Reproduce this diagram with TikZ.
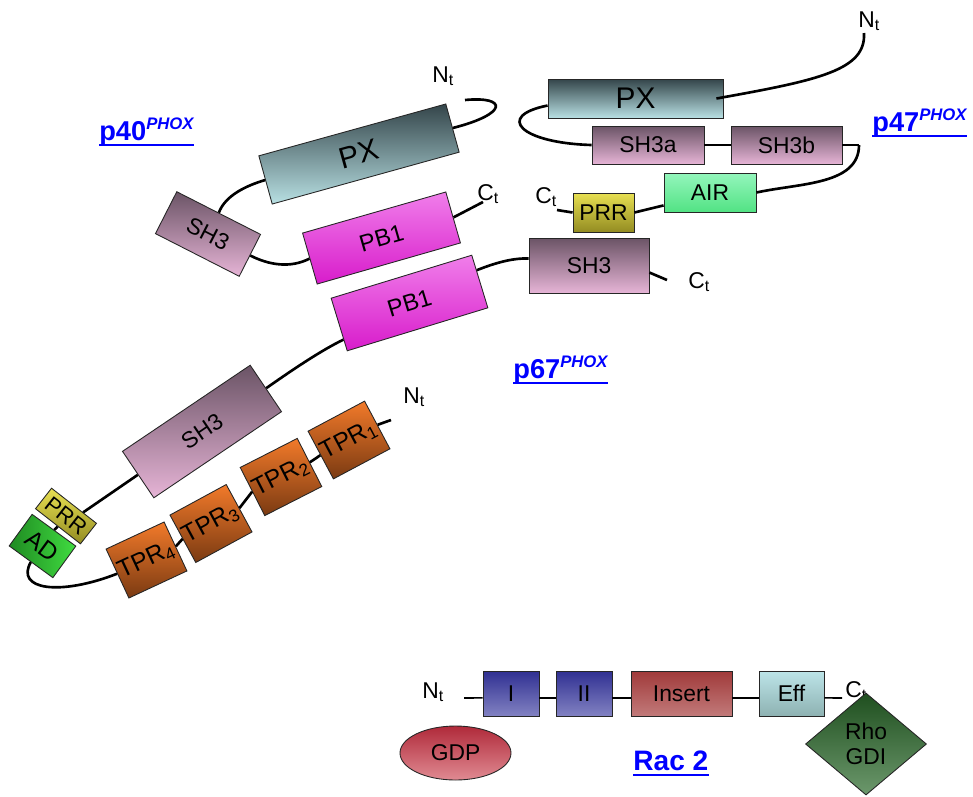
\documentclass[tikz,border=0pt]{standalone}
\usepackage{fontspec}
\setmainfont{Liberation Sans}
\usetikzlibrary{shapes.geometric,calc}

\definecolor{pxdark}{HTML}{34454A}
\definecolor{pxlight}{HTML}{B8E0E3}
\definecolor{shdark}{HTML}{6B5466}
\definecolor{shlight}{HTML}{E6B4D6}
\definecolor{pbtop}{HTML}{F07EEA}
\definecolor{pbbot}{HTML}{D81CCB}
\definecolor{tprtop}{HTML}{F27A2A}
\definecolor{tprbot}{HTML}{7A3A12}
\definecolor{prrtop}{HTML}{E8E052}
\definecolor{prrbot}{HTML}{938C22}
\definecolor{addark}{HTML}{1F8A22}
\definecolor{adlight}{HTML}{40DC40}
\definecolor{airtop}{HTML}{94F6BC}
\definecolor{airbot}{HTML}{52E284}
\definecolor{gtop}{HTML}{303092}
\definecolor{gbot}{HTML}{8282C2}
\definecolor{instop}{HTML}{A03A3A}
\definecolor{insbot}{HTML}{C27A7A}
\definecolor{efftop}{HTML}{BCE4E8}
\definecolor{effbot}{HTML}{8EB2B2}
\definecolor{gdptop}{HTML}{B02A3A}
\definecolor{gdpbot}{HTML}{E08A92}
\definecolor{rhotop}{HTML}{1F4F1F}
\definecolor{rhobot}{HTML}{6C986C}

\newcommand{\phox}{\raisebox{0.75ex}{\fontsize{9.5}{10}\selectfont\itshape PHOX}}

\begin{document}
\begin{tikzpicture}[
    x=0.2mm, y=-0.2mm,
    dom/.style={rectangle, draw=black!85, line width=0.5pt, inner sep=0pt, font=\fontsize{13}{15}\selectfont},
    pxbox/.style={dom, top color=pxdark, bottom color=pxlight, font=\fontsize{17}{20}\selectfont},
    sh3box/.style={dom, top color=shdark, bottom color=shlight},
    pbbox/.style={dom, top color=pbtop, bottom color=pbbot, font=\fontsize{13.5}{15}\selectfont},
    tprbox/.style={dom, top color=tprtop, bottom color=tprbot, minimum width=12.8mm, minimum height=10.8mm, font=\fontsize{14}{16}\selectfont},
    prrbox/.style={dom, top color=prrtop, bottom color=prrbot},
    gbox/.style={dom, top color=gtop, bottom color=gbot, minimum width=11.2mm, minimum height=9mm},
    link/.style={line width=1.5pt},
    thinlink/.style={line width=0.9pt},
    uline/.style={blue, line width=1.4pt},
    term/.style={anchor=base west, inner sep=0pt, font=\fontsize{13}{15}\selectfont},
    prot/.style={anchor=base west, inner sep=0pt, text=blue, font=\fontsize{15.5}{17}\selectfont\bfseries},
]
\useasboundingbox (0,0) rectangle (973,796);

% p40
\node[pxbox, minimum width=38.8mm, minimum height=10mm, rotate=15.5] (px40) at (359,154) {PX};
\node[sh3box, minimum width=18.8mm, minimum height=9.4mm, rotate=-27] (sh340) at (208,234) {SH3};
\node[pbbox, minimum width=29.8mm, minimum height=10.6mm, rotate=16] (pb140) at (381.5,238) {PB1};
\coordinate (n40) at (465,100);
\coordinate (c40) at (483,202);
\node[term] (nt40) at (432,82) {N\textsubscript{t}};
\node[term] (ct40) at (477,200) {C\textsubscript{t}};
\node[prot] (lab40) at (99,140) {p40\phox};
\draw[uline] ($(lab40.base west)+(0,5)$) -- ($(lab40.base east)+(0,5)$);

\draw[link] (n40) .. controls (508,96) and (508,114) .. (px40.east);
\draw[link] (px40.west) .. controls (245,186) and (225,196) .. (sh340.north);
\draw[link] (sh340.east) .. controls (275,268) and (295,266) .. (pb140.west);
\draw[link] (pb140.east) -- (c40);

% p67
\node[pbbox, minimum width=29.4mm, minimum height=11mm, rotate=17] (pb167) at (409.5,303) {PB1};
\node[sh3box, minimum width=24mm, minimum height=11mm] (sh367) at (589,265.5) {SH3};
\node[sh3box, minimum width=30.8mm, minimum height=11.2mm, rotate=34] (sh3long) at (202,431.5) {SH3};
\node[prrbox, minimum width=11.4mm, minimum height=5.2mm, rotate=-38, font=\fontsize{12.5}{14}\selectfont] (prr67) at (66,516) {PRR};
\node[dom, left color=addark, right color=adlight, minimum width=10.8mm, minimum height=7.8mm, rotate=-36, font=\fontsize{14}{16}\selectfont] (ad) at (42.5,546) {AD};
\foreach \i/\x/\y/\a in {1/349/440/28, 2/281/477/27, 3/211/523.5/28.5, 4/146.5/560/25}
    \node[tprbox, rotate=\a] (tpr\i) at (\x,\y) {TPR\textsubscript{\i}};
\coordinate (c67) at (667,280);
\coordinate (n67) at (391,420);
\node[term] (ct67) at (688,288) {C\textsubscript{t}};
\node[term] (nt67) at (403,403) {N\textsubscript{t}};
\node[prot] (lab67) at (513,378) {p67\phox};
\draw[uline] ($(lab67.base west)+(0,5)$) -- ($(lab67.base east)+(0,5)$);

\draw[link] (pb167.9) .. controls (495,263) and (512,258) .. ([yshift=4pt]sh367.west);
\draw[link] ([yshift=-4pt]sh367.east) -- (c67);
\draw[link] (pb167.192) .. controls (322,350) and (295,368) .. (sh3long.east);
\draw[link] (sh3long.west) -- (prr67.50);
\draw[link] (prr67.south) -- (ad.north);
\draw[link] (ad.south) .. controls (15,590) and (60,596) .. (tpr4.west);
\draw[link] (tpr4.east) -- (tpr3.west);
\draw[link] (tpr3.east) -- (tpr2.west);
\draw[link] (tpr2.east) -- (tpr1.west);
\draw[link] (tpr1.east) -- (n67);

% p47
\node[pxbox, minimum width=35mm, minimum height=7.8mm] (px47) at (635.5,98.5) {PX};
\node[sh3box, minimum width=22.4mm, minimum height=7.6mm] (sh3a) at (648,145) {SH3a};
\node[sh3box, minimum width=22.2mm, minimum height=7.6mm] (sh3b) at (786.5,145) {SH3b};
\node[prrbox, minimum width=12.2mm, minimum height=7.8mm, text depth=-4pt] (prr47) at (603.5,212.5) {PRR};
\node[dom, top color=airtop, bottom color=airbot, minimum width=18.4mm, minimum height=7.8mm] (air) at (710,192.5) {AIR};
\coordinate (n47) at (864,33);
\coordinate (j47) at (859,145);
\coordinate (c47) at (557,210);
\node[term] (nt47) at (858,27) {N\textsubscript{t}};
\node[term] (ct47) at (535,203) {C\textsubscript{t}};
\node[prot] (lab47) at (872,131) {p47\phox};
\draw[uline] ($(lab47.base west)+(0,5)$) -- ($(lab47.base east)+(0,5)$);

\draw[link] ($(px47.east)+(-7,0)$) .. controls (820,80) and (866,70) .. (n47);
\draw[link] ([yshift=-4pt]px47.west) .. controls (495,116) and (520,143) .. (sh3a.west);
\draw[link] (sh3a.east) -- (sh3b.west);
\draw[link] (sh3b.east) -- (j47);
\draw[link] (j47) .. controls (859,185) and (800,183) .. (air.east);
\draw[link] (prr47.east) -- ([yshift=4pt]air.south west);
\draw[link] (prr47.west) -- (c47);

% Rac 2
\node[gbox] (g1) at (511,693.5) {I};
\node[gbox] (g2) at (584,693.5) {II};
\node[dom, top color=instop, bottom color=insbot, minimum width=20.2mm, minimum height=9mm] (ins) at (681.5,693.5) {Insert};
\node[dom, top color=efftop, bottom color=effbot, minimum width=13mm, minimum height=9mm] (eff) at (791.5,693.5) {Eff};
\coordinate (nrac) at (464,698);
\coordinate (crac) at (842,698);
\node[term] (ntrac) at (422,698) {N\textsubscript{t}};
\node[term] (ctrac) at (845,697) {C\textsubscript{t}};
\draw[thinlink] (nrac) -- ([yshift=-2.5pt]g1.west);
\foreach \a/\b in {g1/g2, g2/ins, ins/eff}
    \draw[thinlink] ([yshift=-2.5pt]\a.east) -- ([yshift=-2.5pt]\b.west);
\draw[thinlink] ([yshift=-2.5pt]eff.east) -- (crac);
\node[ellipse, draw=black!85, line width=0.5pt, top color=gdptop, bottom color=gdpbot, minimum width=22.2mm, minimum height=10.8mm, inner sep=0pt, font=\fontsize{13}{15}\selectfont] (gdp) at (455.5,753) {GDP};
\node[diamond, draw=black!85, line width=0.5pt, top color=rhotop, bottom color=rhobot, minimum width=24.2mm, minimum height=20.4mm, inner sep=0pt, align=center, font=\fontsize{13}{14}\selectfont] (rho) at (866,744) {Rho\\GDI};
\node[prot, font=\fontsize{16}{18}\selectfont\bfseries] (labrac) at (633,770) {Rac 2};
\draw[uline] ($(labrac.base west)+(0,5)$) -- ($(labrac.base east)+(0,5)$);

\end{tikzpicture}
\end{document}
